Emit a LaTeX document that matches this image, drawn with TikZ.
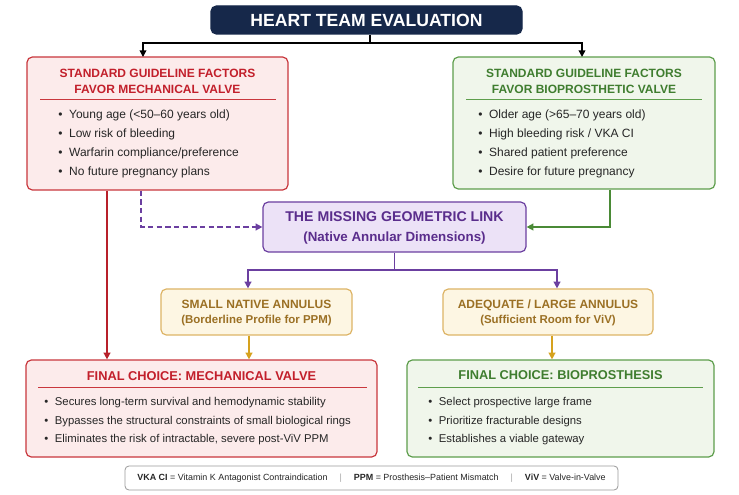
\documentclass[tikz,border=0pt]{standalone}
\usepackage{fontspec}
\setmainfont{Liberation Sans}
\usetikzlibrary{arrows.meta,backgrounds}

\definecolor{navy}{HTML}{16284A}
\definecolor{ink}{HTML}{262626}
\definecolor{mechline}{HTML}{C9373D}
\definecolor{mechfill}{HTML}{FCEBEB}
\definecolor{mechtext}{HTML}{C21F2B}
\definecolor{mecharrow}{HTML}{B8202A}
\definecolor{bioline}{HTML}{5E9E4C}
\definecolor{biofill}{HTML}{F0F6EB}
\definecolor{biotext}{HTML}{3F7D2F}
\definecolor{bioarrow}{HTML}{4A8A36}
\definecolor{linkline}{HTML}{6B3FA0}
\definecolor{linkfill}{HTML}{ECE2F7}
\definecolor{linktext}{HTML}{5A2D8C}
\definecolor{goldline}{HTML}{DDB466}
\definecolor{goldfill}{HTML}{FDF6E3}
\definecolor{goldtext}{HTML}{9B7024}
\definecolor{goldarrow}{HTML}{D6A21E}

\tikzset{
  panel/.style={draw, rounded corners=4pt, line width=0.9pt, inner sep=0pt},
  head/.style={align=center, inner sep=0pt, font=\bfseries\fontsize{9}{12}\selectfont},
  item/.style={anchor=west, inner sep=0pt, text=ink, font=\fontsize{9}{10}\selectfont,
    execute at begin node={\textbullet\hspace{5pt}}},
  smallitem/.style={item, font=\fontsize{8.5}{10}\selectfont},
  link/.style={line width=1.1pt, -{Triangle[length=5pt,width=5pt]}},
  rule/.style={line width=0.75pt}
}

\begin{document}
\begin{tikzpicture}[x=0.75pt,y=-0.75pt]
\useasboundingbox[fill=white] (0,0) rectangle (739,495);

% top
\node[panel, draw=navy, fill=navy, text=white, font=\bfseries\fontsize{13.2}{15}\selectfont,
  minimum width=233.25pt, minimum height=21pt] (title) at (366.5,20) {HEART TEAM EVALUATION};

% guideline boxes
\node[panel, draw=mechline, fill=mechfill, minimum width=195.75pt, minimum height=99.75pt] (mechbox) at (157.5,123.5) {};
\node[head, text=mechtext] (mechhead) at (157.5,81) {STANDARD GUIDELINE FACTORS\\FAVOR MECHANICAL VALVE};
\draw[rule, mechline] (40,100) -- (276,100);
\foreach \txt [count=\i] in {{Young age (<50–60 years old)}, {Low risk of bleeding}, {Warfarin compliance/preference}, {No future pregnancy plans}}
  \node[item] (mechitem\i) at (58,115+19*\i-19) {\txt};

\node[panel, draw=bioline, fill=biofill, minimum width=196.5pt, minimum height=99pt] (biobox) at (584,123) {};
\node[head, text=biotext] (biohead) at (584,81) {STANDARD GUIDELINE FACTORS\\FAVOR BIOPROSTHETIC VALVE};
\draw[rule, bioline] (466,100) -- (702,100);
\foreach \txt [count=\i] in {{Older age (>65–70 years old)}, {High bleeding risk / VKA CI}, {Shared patient preference}, {Desire for future pregnancy}}
  \node[item] (bioitem\i) at (478,115+19*\i-19) {\txt};

% missing link
\node[panel, draw=linkline, fill=linkfill, minimum width=197.25pt, minimum height=37.5pt] (linkbox) at (394.5,227) {};
\begin{scope}[on background layer]
  \foreach \g in {2,4,...,14}
    \draw[linkline, opacity=0.05, line width=\g pt, rounded corners=4pt] (linkbox.south west) rectangle (linkbox.north east);
\end{scope}
\node[head, text=linktext, font=\bfseries\fontsize{10.6}{15}\selectfont] (linkhead) at (394.5,228) {THE MISSING GEOMETRIC LINK\\{\fontsize{10}{15}\selectfont(Native Annular Dimensions)}};

% annulus boxes
\node[panel, draw=goldline, fill=goldfill, minimum width=143.25pt, minimum height=34.5pt] (small) at (256.5,312) {};
\node[head, text=goldtext, font=\bfseries\fontsize{9}{11.5}\selectfont] (smallhead) at (256.5,313) {SMALL NATIVE ANNULUS\\{\fontsize{8.6}{11.5}\selectfont(Borderline Profile for PPM)}};
\node[panel, draw=goldline, fill=goldfill, minimum width=157.5pt, minimum height=34.5pt] (large) at (548,312) {};
\node[head, text=goldtext, font=\bfseries\fontsize{9}{11.5}\selectfont] (largehead) at (548,313) {ADEQUATE / LARGE ANNULUS\\{\fontsize{8.6}{11.5}\selectfont(Sufficient Room for ViV)}};

% final choices
\node[panel, draw=mechline, fill=mechfill, minimum width=263.25pt, minimum height=72.75pt] (finalmech) at (201.5,408.5) {};
\node[head, text=mechtext, font=\bfseries\fontsize{9.6}{12}\selectfont] (finalmechhead) at (201.5,376) {FINAL CHOICE: MECHANICAL VALVE};
\draw[rule, mechline] (38,387) -- (367,387);
\foreach \txt [count=\i] in {{Secures long-term survival and hemodynamic stability}, {Bypasses the structural constraints of small biological rings}, {Eliminates the risk of intractable, severe post-ViV PPM}}
  \node[smallitem] (finalmechitem\i) at (44,403+18.5*\i-18.5) {\txt};

\node[panel, draw=bioline, fill=biofill, minimum width=230.25pt, minimum height=72.75pt] (finalbio) at (560.5,408.5) {};
\node[head, text=biotext, font=\bfseries\fontsize{9.6}{12}\selectfont] (finalbiohead) at (560.5,375) {FINAL CHOICE: BIOPROSTHESIS};
\draw[rule, bioline] (418,387) -- (703,387);
\foreach \txt [count=\i] in {{Select prospective large frame}, {Prioritize fracturable designs}, {Establishes a viable gateway}}
  \node[smallitem] (finalbioitem\i) at (428,403+18.5*\i-18.5) {\txt};

% legend
\node[panel, draw=black!40, fill=white, line width=0.6pt, rounded corners=3pt, text=ink,
  font=\fontsize{6.7}{8}\selectfont, minimum width=369.75pt, minimum height=18pt] (legend) at (371.5,478)
  {\textbf{VKA CI} = Vitamin K Antagonist Contraindication\hspace{9pt}{\color{black!35}|}\hspace{9pt}\textbf{PPM} = Prosthesis–Patient Mismatch\hspace{9pt}{\color{black!35}|}\hspace{9pt}\textbf{ViV} = Valve-in-Valve};

% connectors
\coordinate (fork) at (370,43);
\coordinate (mechin) at (143,57);
\coordinate (bioin) at (582,57);
\coordinate (redx) at (107,0);
\coordinate (dashx) at (141,0);
\coordinate (greenx) at (610,0);
\coordinate (split) at (394.5,270);
\coordinate (smallin) at (248,0);
\coordinate (largein) at (557,0);
\coordinate (smallout) at (249,0);
\coordinate (largeout) at (552,0);

\draw[line width=1.1pt] (title.south -| fork) -- (fork);
\foreach \to in {mechin, bioin}
  \draw[link, black] (fork) -| (\to);
\draw[link, mecharrow] (mechbox.south -| redx) -- (finalmech.north -| redx);
\draw[link, linkline, dashed, dash pattern=on 4pt off 2.5pt] (mechbox.south -| dashx) |- (linkbox.west);
\draw[link, bioarrow] (biobox.south -| greenx) |- (linkbox.east);
\draw[line width=1.1pt, linkline] (linkbox.south) -- (split);
\draw[link, linkline] (split) -| (small.north -| smallin);
\draw[link, linkline] (split) -| (large.north -| largein);
\draw[link, goldarrow] (small.south -| smallout) -- (finalmech.north -| smallout);
\draw[link, goldarrow] (large.south -| largeout) -- (finalbio.north -| largeout);
\end{tikzpicture}
\end{document}
